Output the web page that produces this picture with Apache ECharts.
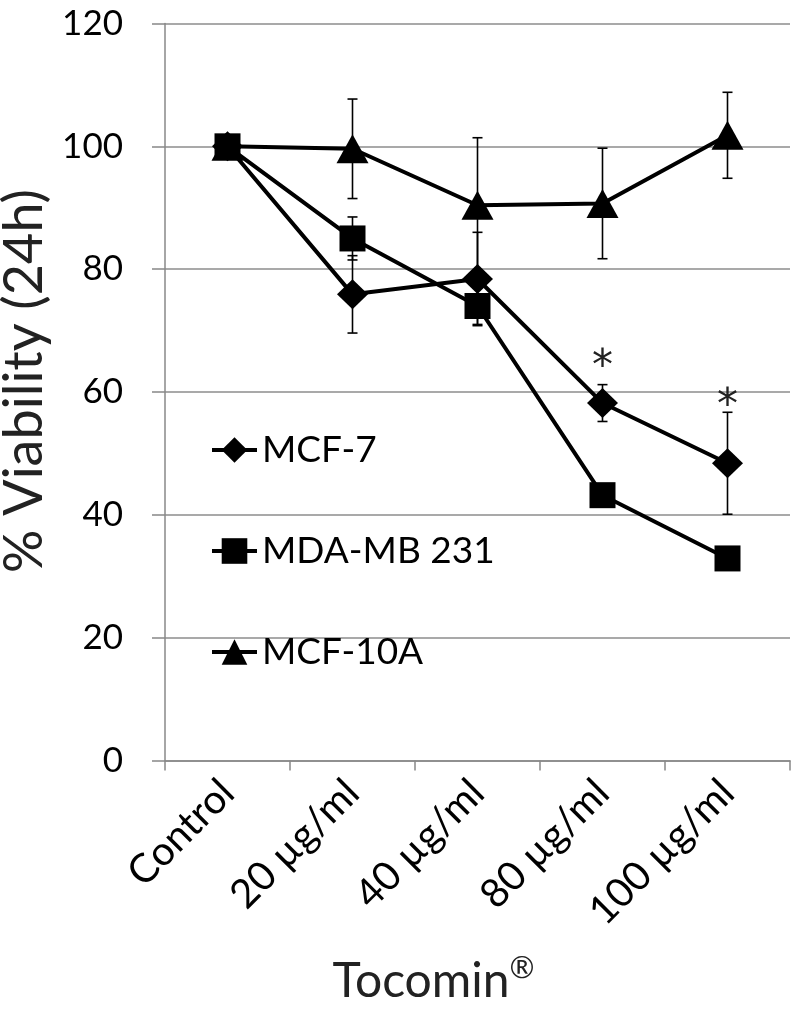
<!DOCTYPE html>
<html><head><meta charset="utf-8">
<script src="https://cdn.jsdelivr.net/npm/echarts@6/dist/echarts.min.js"></script>
<style>html,body{margin:0;padding:0;background:#fff}#c{width:800px;height:1015px}</style>
</head><body><div id="c"></div>
<script>
const categories = ['Control', '20 µg/ml', '40 µg/ml', '80 µg/ml', '100 µg/ml'];
const yTicks = [0, 20, 40, 60, 80, 100, 120];
const mcf7 = [100, 75.9, 78.4, 58.2, 48.4];
const mcf7Err = [0, 6.3, 7.6, 3.0, 8.3];
const mda = [100, 85.0, 74.0, 43.2, 32.9];
const mdaErr = [0, 3.5, 3.0, 0.8, 0.8];
const mcf10a = [100, 99.6, 90.4, 90.7, 101.8];
const mcf10aErr = [0, 8.1, 11.0, 9.0, 7.0];
const sigMarks = [null, null, null, 65.6, 59.1];

const FONT = 'Lato';
const chart = echarts.init(document.getElementById('c'), null, {renderer: 'canvas'});

function errSeries(name, vals, errs) {
  return {
    type: 'custom', name: name + ' err', z: 1, silent: true,
    data: vals.map((v, i) => [i, v - errs[i], v + errs[i]]),
    renderItem: function (params, api) {
      const lo = api.coord([api.value(0), api.value(1)]);
      const hi = api.coord([api.value(0), api.value(2)]);
      if (Math.abs(lo[1] - hi[1]) < 1) return null;
      const w = 5;
      const st = {stroke: '#000', lineWidth: 1.6};
      return {type: 'group', children: [
        {type: 'line', shape: {x1: lo[0], y1: lo[1], x2: hi[0], y2: hi[1]}, style: st},
        {type: 'line', shape: {x1: lo[0] - w, y1: lo[1], x2: lo[0] + w, y2: lo[1]}, style: st},
        {type: 'line', shape: {x1: hi[0] - w, y1: hi[1], x2: hi[0] + w, y2: hi[1]}, style: st}
      ]};
    }
  };
}

function lineSeries(name, vals, symbol, size, z) {
  return {
    type: 'line', name: name, data: vals, symbol: symbol, symbolSize: size, z: z,
    showAllSymbol: true,
    lineStyle: {color: '#000', width: 4},
    itemStyle: {color: '#000', borderWidth: 0},
    emphasis: {disabled: true}
  };
}

chart.setOption({
  animation: false,
  backgroundColor: '#fff',
  grid: {left: 165, right: 10, top: 23.5, bottom: 254.5, containLabel: false, outerBoundsMode: 'none'},
  legend: {
    orient: 'vertical', left: 210, top: 430, padding: 0,
    itemWidth: 45, itemHeight: 32, itemGap: 61,
    lineStyle: {width: 4},
    textStyle: {fontFamily: FONT, fontSize: 37, color: '#000', lineHeight: 40},
    data: ['MCF-7', 'MDA-MB 231', 'MCF-10A'],
    selectedMode: false
  },
  xAxis: {
    type: 'category', data: categories, boundaryGap: true,
    name: '{a|Tocomin}{b|®}', nameLocation: 'middle', nameGap: 193,
    nameTextStyle: {fontFamily: FONT, fontSize: 48, color: '#222', padding: [0, 88, 0, 0],
      rich: {
        a: {fontFamily: FONT, fontSize: 48, color: '#222', lineHeight: 56},
        b: {fontFamily: FONT, fontSize: 30, color: '#222', verticalAlign: 'top', lineHeight: 56, padding: [0, 0, 14, 0]}
      }},
    axisLine: {lineStyle: {color: '#888', width: 1.5}},
    axisTick: {show: true, length: 10, lineStyle: {color: '#888', width: 1.5}},
    axisLabel: {rotate: 45, fontFamily: FONT, fontSize: 40, color: '#000', margin: 26, interval: 0,
      verticalAlign: 'middle', padding: [10, 0, 0, 0]}
  },
  yAxis: {
    type: 'value', min: yTicks[0], max: yTicks[yTicks.length - 1], interval: yTicks[1] - yTicks[0],
    name: '% Viability (24h)', nameLocation: 'middle', nameGap: 105,
    nameTextStyle: {fontFamily: FONT, fontSize: 54, color: '#222', padding: [0, 0, 0, 22]},
    axisLine: {show: true, lineStyle: {color: '#888', width: 1.5}},
    axisTick: {show: true, length: 13, lineStyle: {color: '#888', width: 1.5}},
    splitLine: {show: true, lineStyle: {color: '#8c8c8c', width: 1.5}},
    axisLabel: {fontFamily: FONT, fontSize: 35, color: '#000', margin: 42}
  },
  series: [
    errSeries('MCF-7', mcf7, mcf7Err),
    errSeries('MDA-MB 231', mda, mdaErr),
    errSeries('MCF-10A', mcf10a, mcf10aErr),
    lineSeries('MCF-7', mcf7, 'diamond', [31, 30], 3),
    lineSeries('MCF-10A', mcf10a, 'triangle', [32, 29], 3),
    lineSeries('MDA-MB 231', mda, 'rect', 26, 4),
    {
      type: 'custom', name: 'sig', z: 5, silent: true,
      data: sigMarks.map((v, i) => [i, v]).filter(d => d[1] != null),
      renderItem: function (params, api) {
        const p = api.coord([api.value(0), api.value(1)]);
        return {type: 'text', x: p[0], y: p[1] + 10, style: {text: '*', fontFamily: 'DejaVu Sans', fontSize: 42, fill: '#222', align: 'center', verticalAlign: 'middle'}};
      }
    }
  ]
});
</script></body></html>
